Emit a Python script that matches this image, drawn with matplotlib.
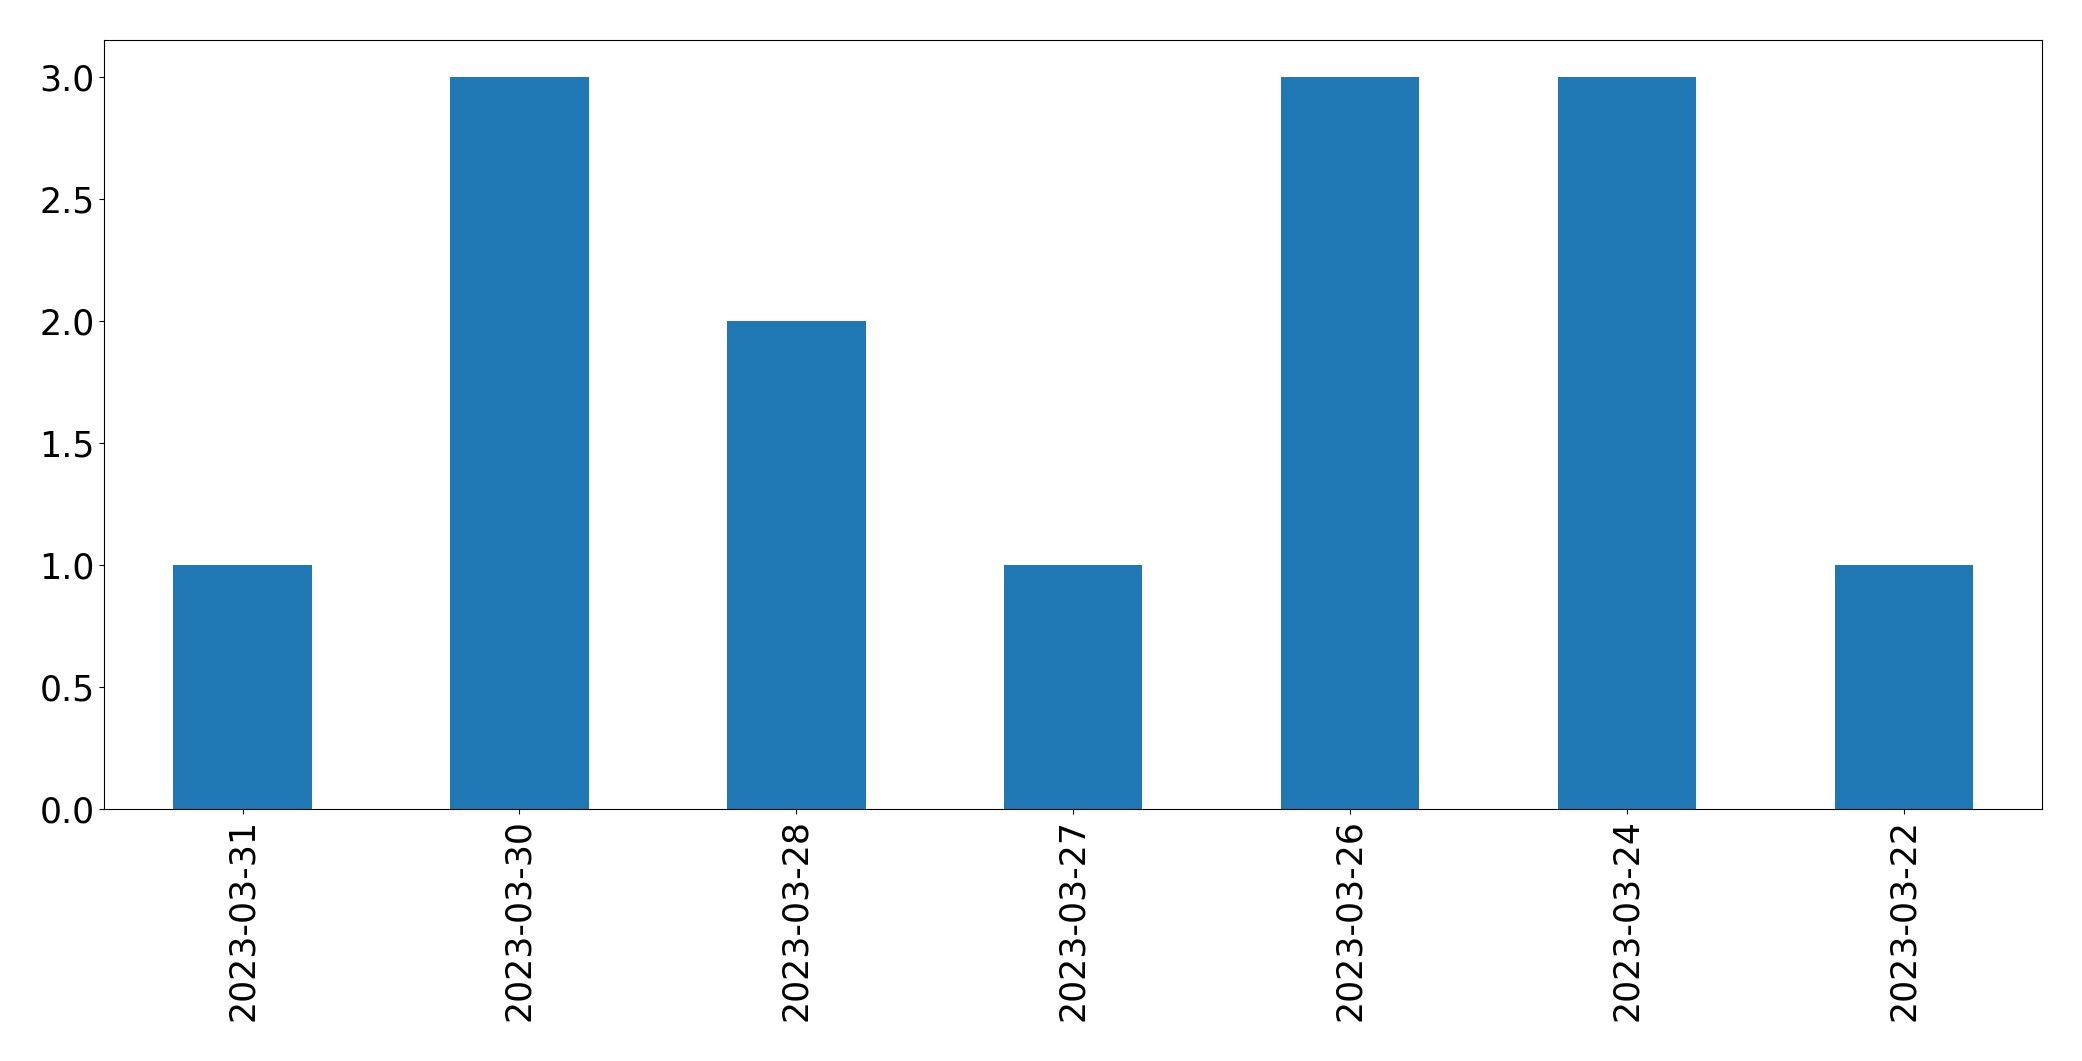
import matplotlib
matplotlib.use("Agg")
import matplotlib.pyplot as plt
import pandas as pd

dates = ["2023-03-31", "2023-03-30", "2023-03-28", "2023-03-27",
         "2023-03-26", "2023-03-24", "2023-03-22"]
counts = [1, 3, 2, 1, 3, 3, 1]

plt.rcParams["font.size"] = 25

s = pd.Series(counts, index=dates)
fig, ax = plt.subplots(figsize=(20.82, 10.61), dpi=100)
s.plot(kind="bar", ax=ax, color="#1f77b4")
ax.tick_params(axis="both", labelsize=25)
fig.subplots_adjust(left=0.05, right=0.981, top=0.962, bottom=0.2375)
fig.savefig("out.png", dpi=100)
